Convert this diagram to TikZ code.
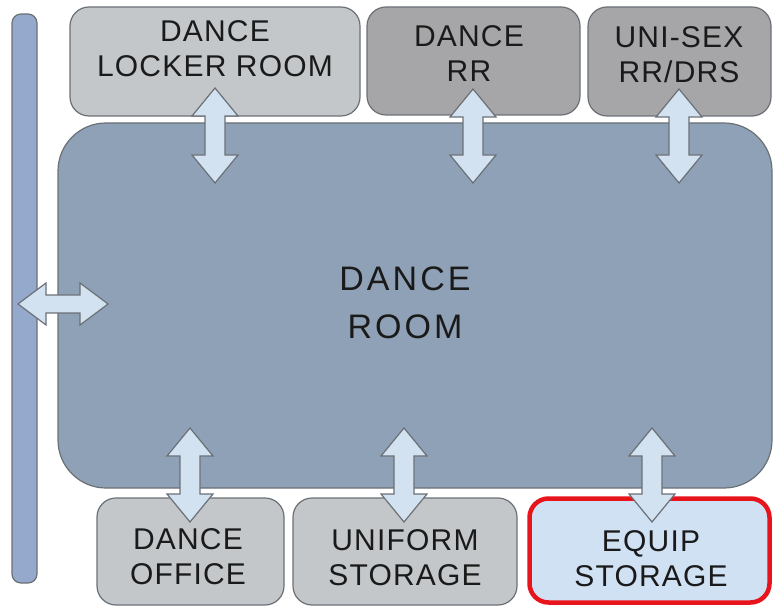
\documentclass[tikz,border=0pt]{standalone}
\usepackage{fontspec}
\setmainfont{Liberation Sans}
\newfontfamily\lblfont[LetterSpace=4]{Liberation Sans}
\newfontfamily\bigfont[LetterSpace=9]{Liberation Sans}
\definecolor{roomfill}{HTML}{8FA1B6}
\definecolor{barfill}{HTML}{94A9CC}
\definecolor{lightbox}{HTML}{C3C7CA}
\definecolor{darkbox}{HTML}{A6A6A8}
\definecolor{equipfill}{HTML}{D0E1F4}
\definecolor{arrowfill}{HTML}{D3E2F1}
\definecolor{edge}{HTML}{6B7076}
\definecolor{redline}{HTML}{E8141B}
\definecolor{txt}{HTML}{1A1A1A}
\begin{document}
\begin{tikzpicture}[x=1pt,y=-1pt,
  box/.style={draw=edge, line width=1.2pt, rounded corners=19pt, inner sep=0pt},
  lbl/.style={align=center, text=txt, font=\lblfont\fontsize{30}{35}\selectfont, inner sep=0pt},
  dblarrow/.style={draw=edge, line width=1.2pt, fill=arrowfill, line join=miter}]
\useasboundingbox (0,0) rectangle (773,609);
% corridor bar
\node[box, fill=barfill, rounded corners=9pt, minimum width=25pt, minimum height=569pt] (bar) at (24.5,298.5) {};
% dance room
\node[box, fill=roomfill, rounded corners=48pt, minimum width=714pt, minimum height=365pt] (room) at (415,305.5) {};
% top rooms
\node[box, fill=lightbox, minimum width=290pt, minimum height=109pt] (locker) at (215,61.5) {};
\node[box, fill=darkbox, minimum width=213pt, minimum height=108pt] (rr) at (473.5,61) {};
\node[box, fill=darkbox, minimum width=183pt, minimum height=109pt] (unisex) at (679.5,61.5) {};
% bottom rooms
\node[box, fill=lightbox, minimum width=187pt, minimum height=107pt] (office) at (190.5,551.5) {};
\node[box, fill=lightbox, minimum width=224pt, minimum height=107pt] (uniform) at (405,551.5) {};
\node[box, draw=redline, line width=4.5pt, fill=equipfill, minimum width=240pt, minimum height=104pt] (equip) at (649.5,550.5) {};
% labels
\node[lbl] (lockertxt) at (215,49) {DANCE\\LOCKER ROOM};
\node[lbl] (rrtxt) at (469,53.5) {DANCE\\RR};
\node[lbl] (unisextxt) at (679,55) {UNI-SEX\\RR/DRS};
\node[lbl, font=\bigfont\fontsize{34}{48}\selectfont] (roomtxt) at (405,302.5) {DANCE\\ROOM};
\node[lbl] (officetxt) at (188,557) {DANCE\\OFFICE};
\node[lbl] (uniformtxt) at (405,558) {UNIFORM\\STORAGE};
\node[lbl] (equiptxt) at (651,558.5) {EQUIP\\STORAGE};
% double arrows (vertical): centre x, top tip, bottom tip
\foreach \c/\t/\b in {215/88/183, 473/89/183, 679/89/183, 190/428/522, 404/428/522, 652/428/522}{
  \draw[dblarrow] (\c,\t) -- (\c+23,\t+28) -- (\c+10,\t+28) -- (\c+10,\b-28) -- (\c+23,\b-28) -- (\c,\b)
     -- (\c-23,\b-28) -- (\c-10,\b-28) -- (\c-10,\t+28) -- (\c-23,\t+28) -- cycle;
}
% horizontal arrow
\draw[dblarrow] (18,304) -- (46,283) -- (46,295) -- (80,295) -- (80,283) -- (108,304)
   -- (80,325) -- (80,313) -- (46,313) -- (46,325) -- cycle;
\end{tikzpicture}
\end{document}
